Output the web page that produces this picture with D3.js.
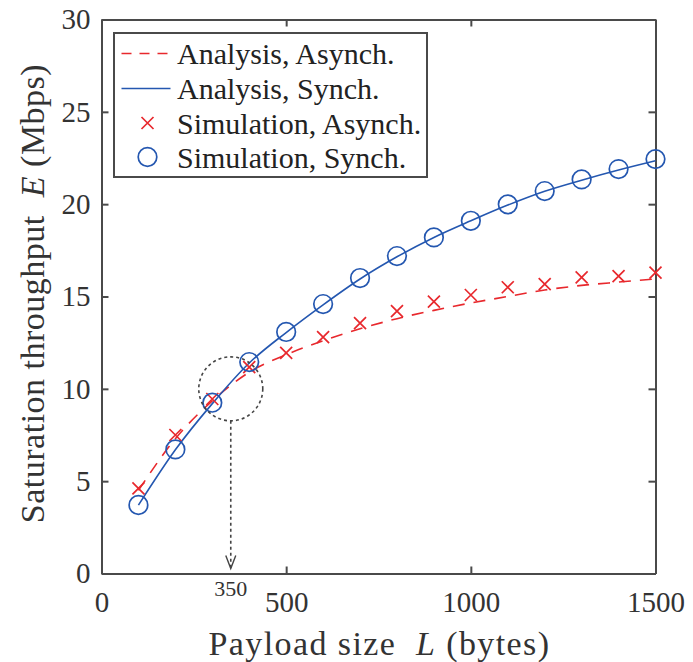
<!DOCTYPE html>
<html>
<head>
<meta charset="utf-8">
<script src="https://cdn.jsdelivr.net/npm/d3@7"></script>
<style>
  body { margin: 0; background: #fff; }
  svg { display: block; }
</style>
</head>
<body>
<svg id="chart" width="693" height="662"></svg>
<script>
// Payload sizes (bytes) at which throughput was evaluated
const payload = [100, 200, 300, 400, 500, 600, 700, 800, 900, 1000, 1100, 1200, 1300, 1400, 1500];
// Analytical saturation throughput (Mbps)
const anaAsynch = [4.5, 7.3, 9.35, 10.9, 11.85, 12.6, 13.25, 13.8, 14.25, 14.65, 15.0, 15.35, 15.6, 15.78, 15.95];
const anaSynch  = [3.7, 6.7, 9.2, 11.4, 13.05, 14.55, 15.95, 17.15, 18.2, 19.1, 19.95, 20.7, 21.3, 21.85, 22.35];
// Simulated saturation throughput (Mbps)
const simAsynch = [4.61, 7.5, 9.45, 11.18, 11.95, 12.8, 13.56, 14.21, 14.72, 15.08, 15.5, 15.67, 16.04, 16.1, 16.29];
const simSynch  = [3.71, 6.72, 9.25, 11.45, 13.08, 14.59, 16.0, 17.19, 18.2, 19.1, 19.99, 20.71, 21.34, 21.9, 22.44];

const xTicks = [0, 500, 1000, 1500];
const yTicks = [0, 5, 10, 15, 20, 25, 30];
const legendLabels = ["Analysis, Asynch.", "Analysis, Synch.", "Simulation, Asynch.", "Simulation, Synch."];

// Crossover point highlighted on the plot
const crossPayload = 350;
const crossThroughput = 10;

const RED = "#e8282d";
const BLUE = "#2457b0";
const AXIS = "#4a4a4a";
const TEXT = "#333";
const SERIF = '"Liberation Serif"';

const svg = d3.select("#chart");

const x = d3.scaleLinear().domain([0, 1500]).range([101.5, 655.5]);
const y = d3.scaleLinear().domain([0, 30]).range([573.5, 19.5]);
const fmt = d3.format("d");

// ---- axes (box with inward ticks on all sides) ----
function styleAxis(g) {
  g.select(".domain").attr("stroke", AXIS).attr("stroke-width", 2);
  g.selectAll(".tick line").attr("stroke", AXIS).attr("stroke-width", 2);
  g.selectAll(".tick text").attr("fill", TEXT)
    .style("font-family", SERIF).style("font-size", "29px");
}

svg.append("g").attr("transform", `translate(0,${y(0)})`)
  .call(d3.axisBottom(x).tickValues(xTicks).tickFormat(fmt).tickSizeInner(-7).tickSizeOuter(0).tickPadding(18))
  .call(styleAxis);
svg.append("g").attr("transform", `translate(0,${y(30)})`)
  .call(d3.axisTop(x).tickValues(xTicks).tickSizeInner(-7).tickSizeOuter(0).tickFormat(""))
  .call(styleAxis);
svg.append("g").attr("transform", `translate(${x(0)},0)`)
  .call(d3.axisLeft(y).tickValues(yTicks).tickFormat(fmt).tickSizeInner(-7).tickSizeOuter(0).tickPadding(11))
  .call(styleAxis);
svg.append("g").attr("transform", `translate(${x(1500)},0)`)
  .call(d3.axisRight(y).tickValues(yTicks).tickSizeInner(-7).tickSizeOuter(0).tickFormat(""))
  .call(styleAxis);

// ---- axis titles ----
const xTitle = svg.append("text")
  .attr("x", (x(0) + x(1500)) / 2 + 1).attr("y", 655)
  .attr("text-anchor", "middle").attr("fill", TEXT)
  .style("font-family", SERIF).style("font-size", "34px").style("letter-spacing", "1.4px");
xTitle.append("tspan").text("Payload size\u00a0\u00a0");
xTitle.append("tspan").style("font-style", "italic").text("L");
xTitle.append("tspan").text(" (bytes)");

const yTitle = svg.append("text")
  .attr("transform", `translate(44,${(y(0) + y(30)) / 2 - 3}) rotate(-90)`)
  .attr("text-anchor", "middle").attr("fill", TEXT)
  .style("font-family", SERIF).style("font-size", "34px").style("letter-spacing", "0.5px");
yTitle.append("tspan").text("Saturation throughput\u00a0\u00a0");
yTitle.append("tspan").style("font-style", "italic").text("E");
yTitle.append("tspan").text(" (Mbps)");

// ---- analytical curves ----
const line = d3.line()
  .x((d, i) => x(payload[i]))
  .y(d => y(d))
  .curve(d3.curveMonotoneX);

svg.append("path").datum(anaAsynch)
  .attr("d", line).attr("fill", "none")
  .attr("stroke", RED).attr("stroke-width", 1.6).attr("stroke-dasharray", "12,9");

svg.append("path").datum(anaSynch)
  .attr("d", line).attr("fill", "none")
  .attr("stroke", BLUE).attr("stroke-width", 1.6);

// ---- simulation markers ----
const crossPath = "M-6,-6L6,6M-6,6L6,-6";

svg.append("g").selectAll("path")
  .data(simAsynch).join("path")
  .attr("transform", (d, i) => `translate(${x(payload[i])},${y(d)})`)
  .attr("d", crossPath).attr("fill", "none")
  .attr("stroke", RED).attr("stroke-width", 1.7);

svg.append("g").selectAll("circle")
  .data(simSynch).join("circle")
  .attr("cx", (d, i) => x(payload[i])).attr("cy", d => y(d))
  .attr("r", 9.3).attr("fill", "none")
  .attr("stroke", BLUE).attr("stroke-width", 1.7);

// ---- crossover annotation ----
const cx = x(crossPayload), cy = y(crossThroughput);
const ringR = 32;
svg.append("circle")
  .attr("cx", cx).attr("cy", cy).attr("r", ringR)
  .attr("fill", "none").attr("stroke", "#444")
  .attr("stroke-width", 1.6).attr("stroke-dasharray", "3,3");
svg.append("line")
  .attr("x1", cx).attr("x2", cx).attr("y1", cy + ringR).attr("y2", y(0) - 6)
  .attr("stroke", "#444").attr("stroke-width", 1.6).attr("stroke-dasharray", "3,3");
svg.append("path")
  .attr("d", `M${cx - 5},${y(0) - 18}L${cx},${y(0) - 5}L${cx + 5},${y(0) - 18}`)
  .attr("fill", "none").attr("stroke", "#444").attr("stroke-width", 1.4);
svg.append("text")
  .attr("x", cx).attr("y", 596)
  .attr("text-anchor", "middle").attr("fill", TEXT)
  .style("font-family", SERIF).style("font-size", "22px")
  .text(crossPayload);

// ---- legend ----
const legend = svg.append("g");
legend.append("rect")
  .attr("x", 114).attr("y", 33).attr("width", 313).attr("height", 144)
  .attr("fill", "#fff").attr("stroke", AXIS).attr("stroke-width", 2);

const rowY = [53.5, 88.5, 123, 157];
const sampleX0 = 121.5, sampleX1 = 170.5, markerX = 147.5, textX = 177;

legend.append("line")
  .attr("x1", sampleX0).attr("x2", sampleX1).attr("y1", rowY[0]).attr("y2", rowY[0])
  .attr("stroke", RED).attr("stroke-width", 1.6).attr("stroke-dasharray", "10,8");
legend.append("line")
  .attr("x1", sampleX0).attr("x2", sampleX1).attr("y1", rowY[1]).attr("y2", rowY[1])
  .attr("stroke", BLUE).attr("stroke-width", 1.6);
legend.append("path")
  .attr("transform", `translate(${markerX},${rowY[2]})`)
  .attr("d", crossPath).attr("fill", "none").attr("stroke", RED).attr("stroke-width", 1.7);
legend.append("circle")
  .attr("cx", markerX).attr("cy", rowY[3]).attr("r", 9.3)
  .attr("fill", "none").attr("stroke", BLUE).attr("stroke-width", 1.7);

legend.selectAll("text.lbl")
  .data(legendLabels).join("text")
  .attr("class", "lbl")
  .attr("x", textX).attr("y", (d, i) => rowY[i]).attr("dy", "0.35em")
  .attr("fill", "#222")
  .style("font-family", SERIF).style("font-size", "30px")
  .text(d => d);
</script>
</body>
</html>
